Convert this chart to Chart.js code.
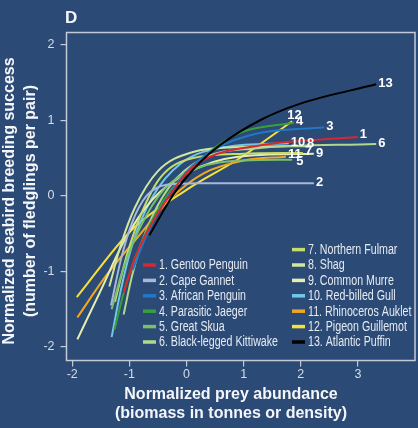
<!DOCTYPE html>
<html>
<head>
<meta charset="utf-8">
<script src="https://cdn.jsdelivr.net/npm/chart.js@4.4.1/dist/chart.umd.min.js"></script>
<style>
  html, body { margin: 0; padding: 0; background: #2b4a75; }
  canvas { display: block; }
</style>
</head>
<body>
<canvas id="c" width="418" height="428"></canvas>
<script>
var speciesNames = ['Gentoo Penguin', 'Cape Gannet', 'African Penguin', 'Parasitic Jaeger',
  'Great Skua', 'Black-legged Kittiwake', 'Northern Fulmar', 'Shag', 'Common Murre',
  'Red-billed Gull', 'Rhinoceros Auklet', 'Pigeon Guillemot', 'Atlantic Puffin'];
var xTicks = [-2, -1, 0, 1, 2, 3];
var yTicks = [-2, -1, 0, 1, 2];

// points: [prey abundance, breeding success]
var gentooPenguin = [[-1.10,-1.28],[-0.94,-0.90],[-0.70,-0.49],[-0.47,-0.19],[0,0.30],[0.35,0.50],[1.28,0.67],[3.0,0.78]];
var capeGannet = [[-1.32,-1.45],[-1.15,-0.85],[-0.95,-0.35],[-0.7,0.0],[-0.35,0.15],[0.2,0.17],[2.23,0.17]];
var africanPenguin = [[-0.94,-0.98],[-0.7,-0.52],[-0.4,-0.1],[0,0.32],[0.5,0.62],[1.2,0.82],[2.41,0.91]];
var parasiticJaeger = [[-1.26,-1.77],[-1.05,-1.15],[-0.75,-0.55],[-0.3,0.05],[0.2,0.45],[0.63,0.71],[0.98,0.85],[1.88,0.97]];
var greatSkua = [[-1.31,-1.50],[-1.1,-0.95],[-0.8,-0.4],[-0.4,0.08],[0.2,0.37],[1.0,0.47],[1.85,0.48]];
var kittiwake = [[-1.10,-1.57],[-0.95,-1.05],[-0.7,-0.45],[-0.3,0.12],[0.3,0.5],[1.2,0.63],[3.32,0.69]];
var northernFulmar = [[-1.25,-1.4],[-1.05,-0.8],[-0.8,-0.25],[-0.45,0.25],[0.1,0.50],[1.0,0.56],[2.04,0.57]];
var shag = [[-1.35,-1.2],[-1.15,-0.65],[-0.9,-0.15],[-0.5,0.33],[0.1,0.58],[1.0,0.65],[2.09,0.66]];
var commonMurre = [[-1.91,-1.90],[-1.5,-1.25],[-1.08,-0.58],[-0.6,-0.05],[0,0.3],[0.9,0.52],[2.23,0.56]];
var redBilledGull = [[-1.31,-1.87],[-1.15,-1.25],[-0.95,-0.65],[-0.6,-0.02],[-0.1,0.43],[0.7,0.65],[1.79,0.70]];
var rhinocerosAuklet = [[-1.91,-1.61],[-1.4,-1.05],[-0.87,-0.56],[-0.3,-0.05],[0.3,0.3],[1.0,0.47],[1.74,0.52]];
var pigeonGuillemot = [[-1.92,-1.34],[-0.96,-0.45],[0,0.08],[0.93,0.50],[1.85,0.99]];
var atlanticPuffin = [[-0.65,-0.52],[-0.21,0.04],[0.23,0.44],[0.58,0.67],[1.28,1.0],[1.98,1.22],[3.32,1.48]];

var curves = [gentooPenguin, capeGannet, africanPenguin, parasiticJaeger, greatSkua, kittiwake,
  northernFulmar, shag, commonMurre, redBilledGull, rhinocerosAuklet, pigeonGuillemot, atlanticPuffin];

var colors = ['#d8282e', '#a9b8d8', '#1f78c8', '#3a9e3a', '#7cbf6a', '#b2d88e', '#c6dd6e',
  '#d2e6a0', '#e6eeae', '#72c8e6', '#f0a822', '#f6e03c', '#000000'];
// label nudge from the curve end, px
var labelNudge = [[2,-3],[2,-1],[2,-1],[2,-1],[4,2],[2,0],[2,-2],[1,-3],[2,0],[2,-1],[2,-2],[-5,-6],[2,-1]];

var frameColor = '#c3cbd9',
  tickColor = '#d6dce8',
  sans = "'Liberation Sans', Arial, sans-serif";

var decor = {
  id: 'decor',
  afterDatasetsDraw: function(chart) {
    var ctx = chart.ctx, a = chart.chartArea,
      xs = chart.scales.x, ys = chart.scales.y;
    ctx.save();
    ctx.strokeStyle = frameColor;
    ctx.lineWidth = 1.5;
    ctx.strokeRect(a.left, a.top, a.right - a.left, a.bottom - a.top);

    // numbers at curve ends
    ctx.fillStyle = '#ffffff';
    ctx.font = 'bold 13px ' + sans;
    ctx.textBaseline = 'middle';
    ctx.textAlign = 'left';
    curves.forEach(function(pts, i) {
      var p = pts[pts.length - 1];
      ctx.fillText(String(i + 1), xs.getPixelForValue(p[0]) + labelNudge[i][0],
        ys.getPixelForValue(p[1]) + labelNudge[i][1]);
    });

    // legend, two columns
    ctx.font = "14px 'Liberation Sans Narrow', 'Arial Narrow', " + sans;
    var squeeze = Math.min(1, 119 / ctx.measureText('6. Black-legged Kittiwake').width);
    chart.data.datasets.forEach(function(ds, i) {
      var col = i < 6 ? 0 : 1,
        k = i < 6 ? i : i - 6,
        x0 = col ? 292 : 143,
        y = col ? 249.6 + k * 15.4 : 265 + k * 15.4;
      ctx.strokeStyle = ds.borderColor;
      ctx.lineWidth = 3.5;
      ctx.beginPath();
      ctx.moveTo(x0, y);
      ctx.lineTo(x0 + 13, y);
      ctx.stroke();
      ctx.fillStyle = '#e6ebf3';
      ctx.save();
      ctx.translate(x0 + 16, y + 0.5);
      ctx.scale(squeeze, 1);
      ctx.fillText(ds.label, 0, 0);
      ctx.restore();
    });

    // panel letter and axis titles
    ctx.fillStyle = '#f4f6fa';
    ctx.font = 'bold 17px ' + sans;
    ctx.textBaseline = 'alphabetic';
    ctx.fillText('D', 65, 23);
    ctx.font = 'bold 16px ' + sans;
    ctx.textAlign = 'center';
    ctx.textBaseline = 'middle';
    ctx.fillText('Normalized prey abundance', 231, 395);
    ctx.fillText('(biomass in tonnes or density)', 231, 414);
    ctx.translate(0, 201);
    ctx.rotate(-Math.PI / 2);
    ctx.fillText('Normalized seabird breeding success', 0, 10);
    ctx.fillText('(number of fledglings per pair)', 0, 31);
    ctx.restore();
  }
};

new Chart(document.getElementById('c'), {
  type: 'line',
  data: {
    datasets: curves.map(function(pts, i) {
      return {
        label: (i + 1) + '. ' + speciesNames[i],
        data: pts.map(function(p) { return {x: p[0], y: p[1]}; }),
        borderColor: colors[i],
        borderWidth: 2,
        pointRadius: 0,
        fill: false,
        cubicInterpolationMode: 'monotone',
        order: i === 12 ? 0 : 1
      };
    })
  },
  options: {
    responsive: false,
    animation: false,
    layout: {padding: {left: 0, top: 32.5, right: 3, bottom: 0}},
    plugins: {legend: {display: false}, tooltip: {enabled: false}},
    scales: {
      x: {
        type: 'linear', min: -2.1, max: 4.0,
        afterBuildTicks: function(s) { s.ticks = xTicks.map(function(v) { return {value: v}; }); },
        afterFit: function(s) { s.height = 67.5; },
        grid: {drawOnChartArea: false, color: frameColor, tickLength: 6, lineWidth: 1.2},
        border: {display: false},
        ticks: {color: tickColor, font: {family: sans, size: 12.5}, padding: 1, maxRotation: 0}
      },
      y: {
        type: 'linear', min: -2.18, max: 2.166,
        afterBuildTicks: function(s) { s.ticks = yTicks.map(function(v) { return {value: v}; }); },
        afterFit: function(s) { s.width = 66.5; },
        grid: {drawOnChartArea: false, color: frameColor, tickLength: 6, lineWidth: 1.2},
        border: {display: false},
        ticks: {color: tickColor, font: {family: sans, size: 12.5}, padding: 6}
      }
    }
  },
  plugins: [decor]
});
</script>
</body>
</html>
